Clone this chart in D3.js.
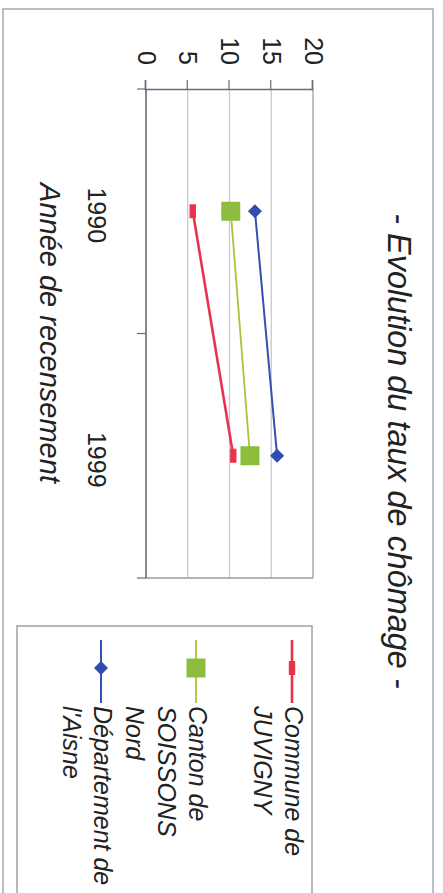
<!DOCTYPE html>
<html>
<head>
<meta charset="utf-8">
<script src="https://cdn.jsdelivr.net/npm/d3@7"></script>
<style>
  body { margin: 0; background: #fff; }
  text { font-family: "Liberation Sans", Arial, sans-serif; fill: #222; }
</style>
</head>
<body>
<div id="chart"></div>
<script>
// data
var years = ["1990", "1999"];
var commune = [5.6, 10.45];
var canton = [10.15, 12.45];
var departement = [13.05, 15.7];
var valueTicks = [0, 5, 10, 15, 20];
var seriesNames = [["Commune de", "JUVIGNY"], ["Canton de", "SOISSONS", "Nord"], ["Département de", "l'Aisne"]];

// the scan is turned a quarter clockwise, so draw landscape and rotate
var w = 443, h = 893;
var W = 893;

var svg = d3.select("#chart").append("svg")
    .attr("width", w)
    .attr("height", h);

var g = svg.append("g")
    .attr("transform", "translate(" + w + ",0) rotate(90)");

// chart area border
g.append("rect")
    .attr("x", 9).attr("y", 10)
    .attr("width", W + 20).attr("height", 430)
    .attr("fill", "none")
    .attr("stroke", "#a8a8b8")
    .attr("stroke-width", 1.5);

var xScale = d3.scaleBand()
    .domain(years)
    .range([89, 578]);

var yScale = d3.scaleLinear()
    .domain([0, 20])
    .range([297, 130]);

// gridlines
g.selectAll(".grid")
    .data(valueTicks.slice(1))
    .enter().append("line")
    .attr("x1", 89).attr("x2", 578)
    .attr("y1", function(d) { return yScale(d); })
    .attr("y2", function(d) { return yScale(d); })
    .attr("stroke", function(d) { return d == 20 ? "#9a9aa8" : "#c8c8d6"; })
    .attr("stroke-width", 1.3);

// right side of plot area
g.append("line")
    .attr("x1", 578).attr("x2", 578)
    .attr("y1", yScale(20)).attr("y2", yScale(0))
    .attr("stroke", "#9a9aa8").attr("stroke-width", 1.3);

// value axis
var yAxis = d3.axisLeft(yScale)
    .tickValues(valueTicks)
    .tickSize(9)
    .tickPadding(15);
var ya = g.append("g")
    .attr("transform", "translate(89,0)")
    .call(yAxis);
ya.select(".domain").attr("stroke", "#6a6a78").attr("stroke-width", 1.6);
ya.selectAll(".tick line").attr("stroke", "#6a6a78").attr("stroke-width", 1.2);
ya.selectAll("text").style("font-size", "25px").attr("fill", "#222");

// category axis, ticks between categories
var xa = g.append("g")
    .attr("transform", "translate(0,297)");
xa.append("line")
    .attr("x1", 89).attr("x2", 578)
    .attr("stroke", "#6a6a78").attr("stroke-width", 1.6);
var edges = [xScale.range()[0]].concat(years.map(function(d) { return xScale(d) + xScale.bandwidth(); }));
xa.selectAll(".ctick")
    .data(edges)
    .enter().append("line")
    .attr("x1", function(d) { return d; })
    .attr("x2", function(d) { return d; })
    .attr("y1", 0).attr("y2", 9)
    .attr("stroke", "#6a6a78").attr("stroke-width", 1.2);
xa.selectAll(".clabel")
    .data(years)
    .enter().append("text")
    .attr("x", function(d) { return xScale(d) + xScale.bandwidth() / 2 + 4; })
    .attr("y", 58)
    .attr("text-anchor", "middle")
    .style("font-size", "25px")
    .text(function(d) { return d; });

// titles
g.append("text")
    .attr("x", 451).attr("y", 55)
    .attr("text-anchor", "middle")
    .style("font-size", "32.4px")
    .style("font-style", "italic")
    .text("- Evolution du taux de chômage -");

g.append("text")
    .attr("x", 333).attr("y", 403)
    .attr("text-anchor", "middle")
    .style("font-size", "29px")
    .style("font-style", "italic")
    .text("Année de recensement");

var series = [
  { values: commune, color: "#e8334c", width: 2.6, marker: "dash", fill: "#e8334c" },
  { values: canton, color: "#a6c63a", width: 1.8, marker: "square", fill: "#8cbd3c" },
  { values: departement, color: "#3450b0", width: 2, marker: "diamond", fill: "#2f4cb0" }
];

var line = d3.line()
    .x(function(d, i) { return xScale(years[i]) + xScale.bandwidth() / 2; })
    .y(function(d) { return yScale(d); });

function drawMarker(sel, type, fill) {
  if (type == "dash") {
    sel.append("rect").attr("x", -7).attr("y", -3.2).attr("width", 14).attr("height", 6.4).attr("fill", fill);
  } else if (type == "square") {
    sel.append("rect").attr("x", -9.5).attr("y", -9.5).attr("width", 19).attr("height", 19).attr("fill", fill);
  } else {
    sel.append("path").attr("d", "M0,-7L7,0L0,7L-7,0Z").attr("fill", fill);
  }
}

series.forEach(function(s) {
  g.append("path")
      .datum(s.values)
      .attr("d", line)
      .attr("fill", "none")
      .attr("stroke", s.color)
      .attr("stroke-width", s.width);
  s.values.forEach(function(v, i) {
    var m = g.append("g")
        .attr("transform", "translate(" + (xScale(years[i]) + xScale.bandwidth() / 2) + "," + yScale(v) + ")");
    drawMarker(m, s.marker, s.fill);
  });
});

// legend
g.append("rect")
    .attr("x", 626).attr("y", 131)
    .attr("width", 300).attr("height", 295)
    .attr("fill", "none")
    .attr("stroke", "#a0a0a8")
    .attr("stroke-width", 1.5);

var legendBase = [158, 254, 349];
var lineH = 31.5;

series.forEach(function(s, k) {
  var cy = legendBase[k] - 7;
  g.append("line")
      .attr("x1", 640).attr("x2", 703)
      .attr("y1", cy).attr("y2", cy)
      .attr("stroke", s.color)
      .attr("stroke-width", s.width);
  var m = g.append("g").attr("transform", "translate(668," + cy + ")");
  drawMarker(m, s.marker, s.fill);
  var t = g.append("text")
      .attr("x", 706).attr("y", legendBase[k])
      .style("font-size", "25px")
      .style("font-style", "italic");
  seriesNames[k].forEach(function(name, j) {
    t.append("tspan")
        .attr("x", 706)
        .attr("dy", j == 0 ? 0 : lineH)
        .text(name);
  });
});
</script>
</body>
</html>
